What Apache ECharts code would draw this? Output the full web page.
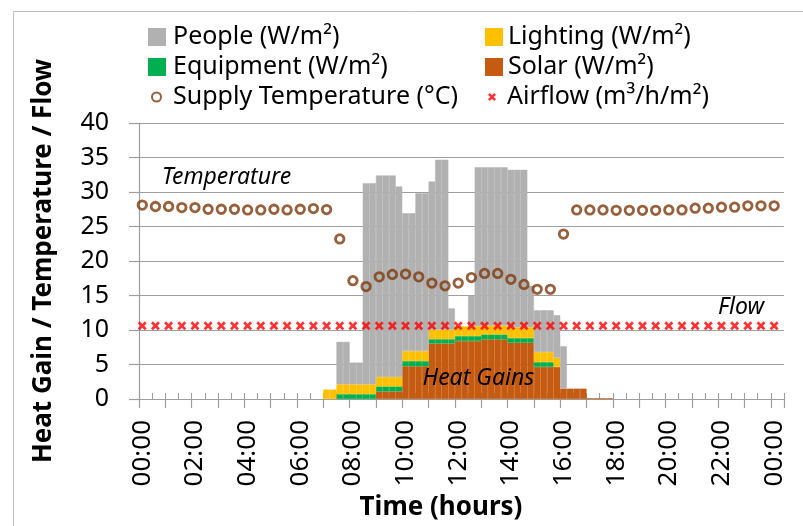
<!DOCTYPE html>
<html><head><meta charset="utf-8">
<script src="https://cdn.jsdelivr.net/npm/echarts@6/dist/echarts.min.js"></script>
<style>html,body{margin:0;padding:0;background:#fff}#c{width:803px;height:526px}</style>
</head><body><div id="c"></div>
<script>
// 15-minute slots, 00:00 .. 24:15 (98 categories)
const slotLabels = [];
for (let j = 0; j < 98; j++) {
  const m = j * 15;
  slotLabels.push(String(Math.floor(m / 60)).padStart(2, '0') + ':' + String(m % 60).padStart(2, '0'));
}
const tickLabels = ['00:00','02:00','04:00','06:00','08:00','10:00','12:00','14:00','16:00','18:00','20:00','22:00','00:00'];

// Heat gains per 15-min slot (W/m²)
const solar = [
  0,0,0,0,0,0,0,0,  0,0,0,0,0,0,0,0,  0,0,0,0,0,0,0,0,
  0,0,0,0,0,0,0,0,  0,0,0,0,1.1,1.1,1.1,1.1,
  4.75,4.75,4.75,4.75,8.05,8.05,8.05,8.05,
  8.4,8.4,8.4,8.4,8.65,8.65,8.65,8.65,
  8.15,8.15,8.15,8.15,4.65,4.65,4.65,4.65,
  1.5,1.5,1.5,1.5,0.1,0.1,0.1,0.1,
  0,0,0,0,0,0,0,0,  0,0,0,0,0,0,0,0,  0,0,0,0,0,0,0,0,  0,0
];
const equipment = [
  0,0,0,0,0,0,0,0,  0,0,0,0,0,0,0,0,  0,0,0,0,0,0,0,0,
  0,0,0,0,0,0,0.7,0.7,
  0.7,0.7,0.7,0.7,0.72,0.72,0.72,0.72,
  0.75,0.75,0.75,0.75,0.62,0.62,0.62,0.62,
  0.72,0.72,0.72,0.72,0.7,0.7,0.7,0.7,
  0.68,0.68,0.68,0.68,0.7,0.7,0.7,0,
  0,0,0,0,0,0,0,0,
  0,0,0,0,0,0,0,0,  0,0,0,0,0,0,0,0,  0,0,0,0,0,0,0,0,  0,0
];
const lighting = [
  0,0,0,0,0,0,0,0,  0,0,0,0,0,0,0,0,  0,0,0,0,0,0,0,0,
  0,0,0,0,1.36,1.36,1.43,1.43,
  1.43,1.43,1.43,1.43,1.38,1.38,1.38,1.38,
  1.44,1.44,1.44,1.44,1.36,1.36,1.36,1.36,
  1.41,1.41,1.41,1.41,1.3,1.3,1.3,1.3,
  1.58,1.58,1.58,1.58,1.46,1.46,1.46,1.35,
  0,0,0,0,0,0,0,0,
  0,0,0,0,0,0,0,0,  0,0,0,0,0,0,0,0,  0,0,0,0,0,0,0,0,  0,0
];
const people = [
  0,0,0,0,0,0,0,0,  0,0,0,0,0,0,0,0,  0,0,0,0,0,0,0,0,
  0,0,0,0,0,0,6.15,6.15,
  3.15,3.15,29.15,29.15,29.2,29.2,29.2,27.6,
  19.97,19.97,22.87,22.87,21.48,24.65,24.65,3.1,
  0,0,4.45,23.07,22.92,22.92,22.92,22.92,
  22.8,22.8,22.8,6.0,6.05,6.05,6.05,6.15,
  6.15,0,0,0,0,0,0,0,
  0,0,0,0,0,0,0,0,  0,0,0,0,0,0,0,0,  0,0,0,0,0,0,0,0,  0,0
];
// Half-hourly points 00:00 .. 24:00 (49)
const supplyTemp = [
  28.1,27.9,27.9,27.75,27.75,27.5,27.5,27.5,27.4,27.4,27.5,27.4,27.5,27.6,27.45,
  23.2,17.15,16.3,17.7,18.05,18.1,17.7,16.8,16.4,16.8,17.6,18.2,18.2,17.35,16.6,15.9,15.9,
  23.9,
  27.4,27.4,27.4,27.35,27.35,27.35,27.35,27.4,27.4,27.65,27.65,27.8,27.8,28.0,28.0,28.0
];
const airflow = [
  10.6,10.6,10.6,10.6,10.6,10.6,10.6,10.6,10.6,10.6,10.6,10.6,10.6,10.6,10.6,10.6,
  10.6,10.6,10.6,10.6,10.6,10.6,10.6,10.6,10.6,10.6,10.6,10.6,10.6,10.6,10.6,10.6,
  10.6,10.6,10.6,10.6,10.6,10.6,10.6,10.6,10.6,10.6,10.6,10.6,10.6,10.6,10.6,10.6,10.6
];

const FONT = '"Noto Sans", "Liberation Sans", sans-serif';
const GRID = '#9E9E9E';
const C = { people:'#B1B1B1', lighting:'#FFC000', equipment:'#00B050', solar:'#C55A11', temp:'#7E3A0C', flow:'#FF0000' };
const crossPath = 'path://M0,2.2L2.2,0L5,2.8L7.8,0L10,2.2L7.2,5L10,7.8L7.8,10L5,7.2L2.2,10L0,7.8L2.8,5Z';

function barSeries(name, arr, color) {
  return {
    name, type:'bar', stack:'heat', xAxisIndex:0, yAxisIndex:0,
    barCategoryGap:'0%', barGap:'0%',
    data: arr.map(v => v === 0 ? '-' : v),
    itemStyle:{ color, borderColor:color, borderWidth:0.5 },
    emphasis:{ disabled:true }
  };
}

const legendBase = {
  orient:'vertical', itemGap:4, padding:0, selectedMode:false,
  textStyle:{ fontFamily:FONT, fontSize:25, color:'#000', lineHeight:26 }
};

const chart = echarts.init(document.getElementById('c'), null, {renderer:'canvas'});
chart.setOption({
  animation:false,
  backgroundColor:'#fff',
  textStyle:{ fontFamily:FONT },
  grid:[
    { left:139, right:19, top:123, bottom:127 },
    { left:139, right:19, top:123, bottom:127 }
  ],
  legend:[
    Object.assign({}, legendBase, { left:148, top:24, itemWidth:16, itemHeight:16, icon:'rect',
      data:['People (W/m²)','Equipment (W/m²)'],
      textStyle:Object.assign({}, legendBase.textStyle, {padding:[0,0,0,3]}) }),
    Object.assign({}, legendBase, { left:485, top:24, itemWidth:16, itemHeight:16, icon:'rect',
      data:['Lighting (W/m²)','Solar (W/m²)'],
      textStyle:Object.assign({}, legendBase.textStyle, {padding:[0,0,0,1]}) }),
    Object.assign({}, legendBase, { left:151, top:84, itemWidth:9, itemHeight:9,
      data:['Supply Temperature (°C)'],
      textStyle:Object.assign({}, legendBase.textStyle, {padding:[0,0,0,7]}) }),
    Object.assign({}, legendBase, { left:488, top:84, itemWidth:8, itemHeight:8,
      data:['Airflow (m³/h/m²)'],
      textStyle:Object.assign({}, legendBase.textStyle, {padding:[0,0,0,6]}) })
  ],
  xAxis:[
    {
      type:'category', gridIndex:0, data:slotLabels, boundaryGap:true,
      axisLine:{ show:true, lineStyle:{ color:GRID, width:1.2 } },
      axisTick:{ show:true, interval:3, inside:false, length:9, lineStyle:{ color:GRID, width:1.2 } },
      axisLabel:{ interval:7, rotate:90, margin:21, fontSize:26, color:'#000', fontFamily:FONT,
        formatter:(v, i) => (i % 8 === 0 ? tickLabels[i / 8] : '') },
      splitLine:{ show:false },
      name:'Time (hours)', nameLocation:'middle', nameGap:95,
      nameTextStyle:{ fontSize:26, fontWeight:'bold', color:'#000', fontFamily:FONT, padding:[0,41,0,0] }
    },
    {
      type:'category', gridIndex:1, data:slotLabels, boundaryGap:true,
      axisLine:{ show:false },
      axisTick:{ show:true, interval:1, inside:true, length:6, lineStyle:{ color:GRID, width:1.1 } },
      axisLabel:{ show:false }, splitLine:{ show:false }
    }
  ],
  yAxis:[
    {
      type:'value', gridIndex:0, min:0, max:40, interval:5,
      axisLine:{ show:true, lineStyle:{ color:GRID, width:1.2 } },
      axisTick:{ show:true, inside:false, length:10, lineStyle:{ color:GRID, width:1.2 } },
      axisLabel:{ fontSize:25, color:'#000', margin:30, fontFamily:FONT },
      splitLine:{ show:true, lineStyle:{ color:GRID, width:1.2 } },
      name:'Heat Gain / Temperature / Flow', nameLocation:'middle', nameGap:82,
      nameTextStyle:{ fontSize:26, fontWeight:'bold', color:'#000', fontFamily:FONT }
    },
    { type:'value', gridIndex:1, min:0, max:40, show:false }
  ],
  series:[
    barSeries('Solar (W/m²)', solar, C.solar),
    barSeries('Equipment (W/m²)', equipment, C.equipment),
    barSeries('Lighting (W/m²)', lighting, C.lighting),
    barSeries('People (W/m²)', people, C.people),
    {
      name:'Airflow (m³/h/m²)', type:'scatter', xAxisIndex:0, yAxisIndex:0,
      symbol:crossPath, symbolSize:9,
      data: airflow.map((v, i) => [i * 2, v]),
      itemStyle:{ color:C.flow }, z:5, emphasis:{ disabled:true }
    },
    {
      name:'Supply Temperature (°C)', type:'scatter', xAxisIndex:0, yAxisIndex:0,
      symbol:'circle', symbolSize:8.5,
      data: supplyTemp.map((v, i) => [i * 2, v]),
      itemStyle:{ color:'rgba(255,255,255,0)', borderColor:C.temp, borderWidth:2.8 }, z:6,
      emphasis:{ disabled:true }
    }
  ],
  graphic:[
    { type:'rect', z:-10, shape:{ x:13.5, y:11.5, width:1000, height:1000 },
      style:{ fill:'none', stroke:'#BFBFBF', lineWidth:1 }, silent:true },
    { type:'text', z:100, x:162, y:177.5,
      style:{ text:'Temperature', font:'italic 23px ' + FONT, fill:'#000', verticalAlign:'middle', textVerticalAlign:'middle' } },
    { type:'text', z:100, x:718, y:307,
      style:{ text:'Flow', font:'italic 23px ' + FONT, fill:'#000', verticalAlign:'middle', textVerticalAlign:'middle' } },
    { type:'text', z:100, x:422.5, y:378.5,
      style:{ text:'Heat Gains', font:'italic 23px ' + FONT, fill:'#000', verticalAlign:'middle', textVerticalAlign:'middle' } }
  ]
});
</script></body></html>
